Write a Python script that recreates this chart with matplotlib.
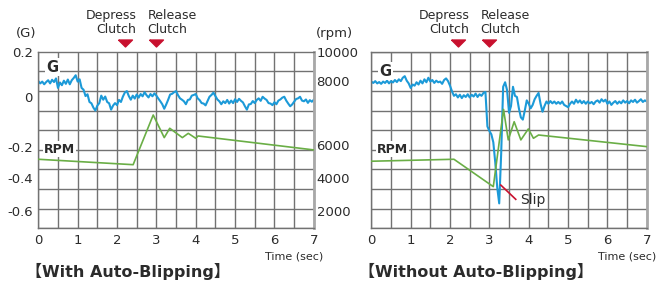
import numpy as np
import matplotlib
matplotlib.use("Agg")
import matplotlib.pyplot as plt
from matplotlib.ticker import MultipleLocator, LinearLocator
from matplotlib.path import Path

plt.rcParams['font.family'] = ['DejaVu Sans', 'Noto Sans CJK JP']

# ---- data ----
g_time = np.arange(0, 7.001, 0.05)

g_with = [
    0.070, 0.060, 0.068, 0.056, 0.066, 0.074, 0.060, 0.076, 0.066, 0.082,
    0.040, 0.064, 0.052, 0.072, 0.058, 0.077, 0.056, 0.074, 0.084, 0.096,
    0.068, 0.078, 0.040, 0.032, 0.004, 0.012, -0.022, -0.028, -0.047, -0.060,
    -0.038, -0.027, 0.006, -0.012, 0.002, -0.022, -0.028, -0.056, -0.038, -0.027,
    -0.036, -0.013, -0.022, 0.002, 0.020, 0.026, 0.004, -0.012, 0.006, -0.007,
    0.011, -0.003, 0.013, 0.003, 0.021, 0.008, -0.002, 0.013, 0.003, 0.016,
    0.006, -0.007, -0.019, -0.032, -0.052, -0.033, -0.012, 0.011, 0.014, 0.021,
    0.026, 0.008, -0.006, -0.012, -0.019, -0.032, -0.013, -0.011, 0.006, 0.009,
    0.013, -0.006, -0.014, -0.027, -0.029, -0.037, -0.018, 0.001, 0.009, 0.019,
    0.004, -0.011, -0.019, -0.032, -0.019, -0.027, -0.013, -0.029, -0.016, -0.027,
    -0.010, -0.022, -0.008, -0.017, -0.024, -0.041, -0.056, -0.033, -0.031, -0.018,
    -0.027, -0.013, -0.006, -0.017, 0.001, -0.007, -0.013, -0.027, -0.029, -0.036,
    -0.023, -0.032, -0.016, -0.011, -0.003, 0.001, -0.016, -0.029, -0.041, -0.033,
    -0.021, -0.009, -0.006, 0.001, -0.016, -0.019, -0.011, -0.026, -0.014, -0.021,
    -0.012,
]

g_without = [
    0.068, 0.062, 0.070, 0.060, 0.066, 0.058, 0.068, 0.062, 0.072, 0.060,
    0.070, 0.064, 0.075, 0.066, 0.078, 0.070, 0.085, 0.092, 0.072, 0.060,
    0.040, 0.055, 0.050, 0.065, 0.055, 0.072, 0.060, 0.078, 0.065, 0.085,
    0.068, 0.075, 0.062, 0.072, 0.065, 0.068, 0.058, 0.075, 0.082, 0.070,
    0.050, 0.025, 0.005, 0.012, -0.002, 0.010, -0.005, 0.008, 0.000, 0.012,
    -0.002, 0.010, 0.002, 0.015, 0.000, 0.012, 0.005, 0.018, 0.022, -0.130,
    -0.150, -0.165, -0.200, -0.290, -0.400, -0.470, -0.250, 0.045, 0.065, 0.030,
    -0.070, -0.040, 0.045, 0.005, 0.000, -0.050, -0.090, -0.100, -0.060, -0.015,
    -0.030, -0.050, -0.035, -0.010, 0.005, 0.018, -0.030, -0.065, -0.040, -0.020,
    -0.030, -0.018, -0.028, -0.020, -0.030, -0.022, -0.030, -0.020, -0.035, -0.040,
    -0.045, -0.030, -0.020, -0.030, -0.012, -0.025, -0.015, -0.028, -0.018, -0.030,
    -0.020, -0.028, -0.022, -0.032, -0.020, -0.015, -0.025, -0.010, -0.020, -0.012,
    -0.030, -0.020, -0.035, -0.025, -0.018, -0.030, -0.020, -0.028, -0.015, -0.025,
    -0.018, -0.028, -0.015, -0.022, -0.012, -0.025, -0.018, -0.010, -0.022, -0.015,
    -0.020,
]

rpm_with_t = [0, 2.41, 2.92, 3.20, 3.34, 3.66, 3.81, 4.00, 4.06, 7.0]
rpm_with = [5160, 4830, 7860, 6480, 7050, 6480, 6740, 6440, 6580, 5730]

rpm_without_t = [0, 2.10, 3.10, 3.36, 3.48, 3.63, 3.80, 3.99, 4.12, 4.25, 7.0]
rpm_without = [5040, 5160, 3490, 8200, 6340, 7450, 6340, 7010, 6440, 6640, 5930]

depress_t = 2.21
release_t = 3.0

g_ticks = [0.2, 0, -0.22, -0.36, -0.505]
g_ticklabels = ['0.2', '0', '-0.2', '-0.4', '-0.6']
rpm_ticks = [11720, 9960, 6000, 4020, 2000]
rpm_ticklabels = ['10000', '8000', '6000', '4000', '2000']

G_LIM = (-0.58, 0.2)
RPM_LIM = (950, 11720)

blue = '#1c9ad8'
green = '#6aae46'
red = '#c8102e'
grid_c = '#727272'
txt = '#2b2b2b'

W, H = 657, 282
fig = plt.figure(figsize=(W / 100, H / 100), dpi=100)


def fx(px):
    return px / W


def fy(py):
    return 1 - py / H


tri = Path([(-1, 0.5), (1, 0.5), (0, -0.5), (-1, 0.5)])


def panel(left, g, rpm_t, rpm, title, show_left, show_right, g_pos, slip=False):
    ax = fig.add_axes([fx(left), fy(228.3), fx(275.5), 176.6 / H])
    ax.set_xlim(0, 7)
    ax.set_ylim(*G_LIM)
    ax.xaxis.set_minor_locator(MultipleLocator(0.5))
    ax.yaxis.set_minor_locator(LinearLocator(10))
    ax.set_xticks(range(8))
    ax.grid(which='both', axis='x', color=grid_c, lw=1.0)
    ax.grid(which='minor', axis='y', color=grid_c, lw=1.0)
    ax.tick_params(which='both', length=0, labelsize=9.5, colors=txt)
    ax.tick_params(axis='x', pad=4)
    for s in ax.spines.values():
        s.set_color(grid_c)
        s.set_linewidth(1.0)
    ax.spines['right'].set_color('#a8a8a8')
    ax.spines['right'].set_linewidth(2)

    ax.plot(g_time, g, color=blue, lw=1.5)

    if show_left:
        ax.set_yticks(g_ticks, g_ticklabels)
        ax.tick_params(axis='y', pad=4)
    else:
        ax.set_yticks([])

    ax2 = ax.twinx()
    ax2.set_ylim(*RPM_LIM)
    ax2.plot(rpm_t, rpm, color=green, lw=1.2)
    ax2.tick_params(length=0, labelsize=9.5, colors=txt, pad=2)
    for s in ax2.spines.values():
        s.set_visible(False)
    if show_right:
        ax2.set_yticks(rpm_ticks, rpm_ticklabels)
    else:
        ax2.set_yticks([])

    box = dict(facecolor='white', edgecolor='none', pad=1)
    ax.text(0.05, g_pos, 'G', transform=ax.transAxes, fontsize=10.5,
            fontweight='bold', color=txt, ha='center', va='center', bbox=box)
    ax.text(0.077, 0.449, 'RPM', transform=ax.transAxes, fontsize=9,
            fontweight='bold', color=txt, ha='center', va='center', bbox=box)

    # clutch markers
    trans = ax.get_xaxis_transform()
    ax.plot([depress_t, release_t], [1.049, 1.049], transform=trans,
            marker=tri, ms=10, color=red, ls='none', clip_on=False)
    ax.text(depress_t + 0.28, 1.165, 'Depress\nClutch', transform=trans,
            ha='right', va='center', fontsize=9, color=txt, linespacing=1.1)
    ax.text(release_t - 0.22, 1.165, 'Release\nClutch', transform=trans,
            ha='left', va='center', fontsize=9, color=txt, linespacing=1.1)

    ax.text(7.25, -0.161, 'Time (sec)', transform=trans, ha='right',
            va='center', fontsize=8, color=txt, clip_on=False)
    ax.text(-0.3, -0.245, title, transform=trans, ha='left', va='center',
            fontsize=11.5, fontweight='bold', color=txt, clip_on=False)

    if slip:
        ax.plot([3.29, 3.67], [-0.389, -0.452], color=red, lw=1.2)
        ax.text(3.78, -0.455, 'Slip', fontsize=10, color=txt, va='center')
    return ax


panel(38.3, g_with, rpm_with_t, rpm_with, '【With Auto-Blipping】',
      True, True, 0.913)
panel(371.3, g_without, rpm_without_t, rpm_without, '【Without Auto-Blipping】',
      False, False, 0.89, slip=True)

fig.text(fx(26), fy(33), '(G)', ha='center', va='center', fontsize=9.5, color=txt)
fig.text(fx(334), fy(33), '(rpm)', ha='center', va='center', fontsize=9.5, color=txt)

fig.savefig('out.png', dpi=100)
